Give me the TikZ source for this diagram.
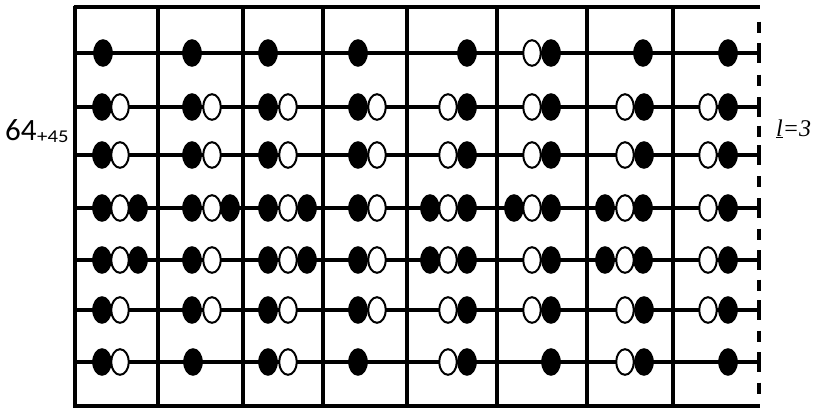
\documentclass[tikz,border=0pt]{standalone}
\usepackage{fontspec}
\newfontfamily\carl{Carlito}
\newfontfamily\tnr{Liberation Serif}
\newcommand\bkb[2]{\fill[black] (#1,#2) ellipse [x radius=9.8pt,y radius=13.8pt];}
\newcommand\wtb[2]{\filldraw[fill=white,draw=black,line width=2pt] (#1,#2) ellipse [x radius=8.8pt,y radius=12.8pt];}
\begin{document}
\begin{tikzpicture}[x=1pt,y=-1pt,
  gridline/.style={line width=3.3pt},
  rod/.style={line width=3.8pt},
  tick/.style={line width=3.2pt}]
\useasboundingbox[fill=white] (0,0) rectangle (819,410);
% frame
\draw[gridline] (73.5,7) -- (760,7);
\draw[gridline] (73.5,406) -- (760,406);
\draw[line width=4pt] (75,5.5) -- (75,407.5);
\foreach \x in {158,243,323,407,497,587,673}
  \draw[gridline] (\x,7) -- (\x,406);
% rods
\draw[line width=4.5pt] (75,53) -- (759,53);
\foreach \y in {107,155,208,260,310,362}
  \draw[rod] (75,\y) -- (759,\y);
% right dashed border
\foreach \y in {53,107,155,208,260,310,362}
  \draw[tick] (759,\y-10) -- (759,\y+10);
\foreach \y in {27,80,131,181.5,234,285,336,388}
  \draw[tick] (759,\y-5.5) -- (759,\y+5.5);
% row 1
\foreach \x in {103,192,268,358,467,551,643,728} {\bkb{\x}{53}}
\wtb{532}{53}
% rows 2,3,6
\foreach \y in {107,155,310} {
  \foreach \x in {102,192,268,358,467,551,644,728} {\bkb{\x}{\y}}
  \foreach \x in {120,212,288,377,448,532,625,708} {\wtb{\x}{\y}}
}
% row 4
\foreach \x in {102,138,192,230,268,307,358,430,467,514,551,605,643,728} {\bkb{\x}{208}}
\foreach \x in {120,212,288,377,448,532,625,708} {\wtb{\x}{208}}
% row 5
\foreach \x in {102,138,192,268,307,358,430,467,551,605,643,728} {\bkb{\x}{260}}
\foreach \x in {120,212,288,377,448,532,625,708} {\wtb{\x}{260}}
% row 7
\foreach \x in {102,193,268,358,467,551,644,728} {\bkb{\x}{362}}
\foreach \x in {120,288,448,625} {\wtb{\x}{362}}
% labels
\node[anchor=base west,inner sep=0pt,font=\carl\fontsize{31}{33}\selectfont] (num) at (5,140) {64};
\node[anchor=base west,inner sep=0pt,font=\carl\fontsize{18}{20}\selectfont,xscale=1.15] (sub) at (37,142) {+45};
\node[anchor=base west,inner sep=0pt,font=\tnr\itshape\fontsize{24}{26}\selectfont] (lab) at (776,136) {\underline{l}=3};
\end{tikzpicture}
\end{document}
